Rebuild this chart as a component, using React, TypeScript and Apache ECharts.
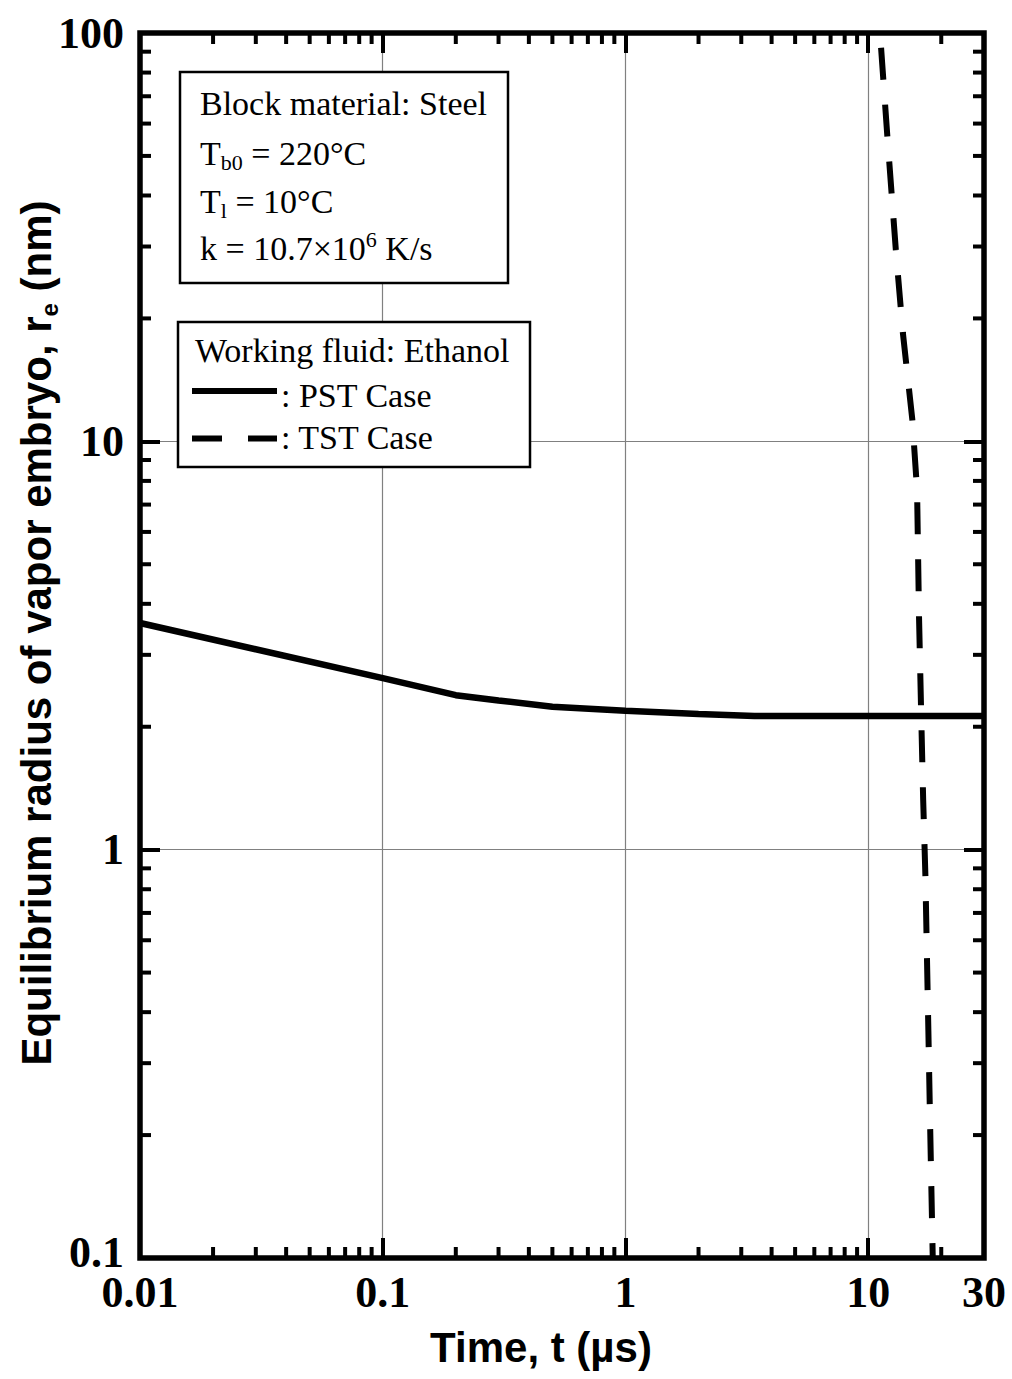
import React, { useEffect, useRef } from 'react';
import * as echarts from 'echarts';

// ---- data (time in µs, radius in nm) ----
const pstTime = [0.01, 0.1, 0.2, 0.3, 0.5, 1, 2, 3.4, 30];
const pstRadius = [3.59, 2.63, 2.39, 2.32, 2.24, 2.19, 2.15, 2.125, 2.125];
const tstTime = [11.3, 12.0, 13.0, 13.9, 15.2, 15.9, 16.2, 16.5, 16.85, 17.2, 17.7, 18.0, 18.45];
const tstRadius = [92, 55.6, 29.4, 18.4, 11.3, 7.6, 3.7, 2.26, 1.32, 0.87, 0.36, 0.21, 0.1];
const xRange = [0.01, 30];
const yRange = [0.1, 100];
const minorMultipliers = [2, 3, 4, 5, 6, 7, 8, 9];

const SERIF = "'Liberation Serif', 'Times New Roman', serif";
const SANS = "'Liberation Sans', Arial, sans-serif";

function minorTicks(range: number[]): number[] {
  const out: number[] = [];
  for (let d = Math.floor(Math.log10(range[0])); d <= Math.ceil(Math.log10(range[1])); d++) {
    for (const m of minorMultipliers) {
      const v = parseFloat((m * Math.pow(10, d)).toPrecision(6));
      if (v > range[0] && v < range[1]) out.push(v);
    }
  }
  return out;
}

const fmt = (v: number) => String(parseFloat(Number(v).toPrecision(4)));

export default function App() {
  const ref = useRef<HTMLDivElement>(null);
  useEffect(() => {
    if (!ref.current) return;
    const chart = echarts.init(ref.current, null, { renderer: 'svg' });
    const tickStyle = { color: '#000', width: 4 };
    const MINOR = 11;
    const xMinor = minorTicks(xRange).map((v) => [v, 1]);
    const yMinor = minorTicks(yRange).map((v) => [1, v]);
    const lineSty = { stroke: '#000', lineWidth: 4 };
    const labelFont = { fontFamily: SERIF, fontWeight: 'bold', fontSize: 44, color: '#000' };

    const mainTxt = { fontFamily: SERIF, fontSize: 34, lineHeight: 40, color: '#000' };
    const option: any = {
      animation: false,
      backgroundColor: '#fff',
      grid: {
        left: 140, right: 28, top: 33, bottom: 121,
        show: true, borderColor: '#000', borderWidth: 5.5, backgroundColor: 'transparent',
      },
      xAxis: [
        {
          type: 'log', logBase: 10, min: xRange[0], max: xRange[1], position: 'bottom',
          axisLine: { show: false },
          axisTick: { show: true, inside: true, length: 20, lineStyle: tickStyle },
          axisLabel: {
            show: true, margin: 12, formatter: fmt, showMinLabel: true, showMaxLabel: true,
            ...labelFont,
          },
          splitLine: { show: true, showMinLine: false, showMaxLine: false, lineStyle: { color: '#808080', width: 1.2 } },
        },
        {
          type: 'log', logBase: 10, min: xRange[0], max: xRange[1], position: 'top',
          axisLine: { show: false },
          axisTick: { show: true, inside: true, length: 20, lineStyle: tickStyle },
          axisLabel: { show: false },
          splitLine: { show: false },
        },
      ],
      yAxis: [
        {
          type: 'log', logBase: 10, min: yRange[0], max: yRange[1], position: 'left',
          axisLine: { show: false },
          axisTick: { show: true, inside: true, length: 20, lineStyle: tickStyle },
          axisLabel: {
            show: true, margin: 16, showMinLabel: true, showMaxLabel: true,
            formatter: (v: number) => (Math.abs(v - yRange[0]) < 1e-9 ? '{lo|' + fmt(v) + '}' : fmt(v)),
            rich: { lo: { ...labelFont, padding: [0, 0, 12, 0] } },
            ...labelFont,
          },
          splitLine: { show: true, showMinLine: false, showMaxLine: false, lineStyle: { color: '#808080', width: 1.2 } },
        },
        {
          type: 'log', logBase: 10, min: yRange[0], max: yRange[1], position: 'right',
          axisLine: { show: false },
          axisTick: { show: true, inside: true, length: 20, lineStyle: tickStyle },
          axisLabel: { show: false },
          splitLine: { show: false },
        },
      ],
      series: [
        {
          name: 'PST Case', type: 'line', xAxisIndex: 0, yAxisIndex: 0,
          data: pstTime.map((t, i) => [t, pstRadius[i]]),
          symbol: 'none', clip: true, z: 5,
          lineStyle: { color: '#000', width: 6.5 },
        },
        {
          name: 'TST Case', type: 'line', xAxisIndex: 0, yAxisIndex: 0,
          data: tstTime.map((t, i) => [t, tstRadius[i]]),
          symbol: 'none', clip: true, z: 5,
          lineStyle: { color: '#000', width: 6, type: [32, 25], cap: 'butt' },
        },
        {
          type: 'custom', xAxisIndex: 0, yAxisIndex: 0, data: xMinor, silent: true, z: 6,
          renderItem: (_p: any, api: any) => {
            const v = api.value(0);
            const pb = api.coord([v, yRange[0]]);
            const pt = api.coord([v, yRange[1]]);
            return {
              type: 'group',
              children: [
                { type: 'line', shape: { x1: pb[0], y1: pb[1], x2: pb[0], y2: pb[1] - MINOR }, style: lineSty },
                { type: 'line', shape: { x1: pt[0], y1: pt[1], x2: pt[0], y2: pt[1] + MINOR }, style: lineSty },
              ],
            };
          },
        },
        {
          type: 'custom', xAxisIndex: 0, yAxisIndex: 0, data: yMinor, silent: true, z: 6,
          renderItem: (_p: any, api: any) => {
            const v = api.value(1);
            const pl = api.coord([xRange[0], v]);
            const pr = api.coord([xRange[1], v]);
            return {
              type: 'group',
              children: [
                { type: 'line', shape: { x1: pl[0], y1: pl[1], x2: pl[0] + MINOR, y2: pl[1] }, style: lineSty },
                { type: 'line', shape: { x1: pr[0], y1: pr[1], x2: pr[0] - MINOR, y2: pr[1] }, style: lineSty },
              ],
            };
          },
        },
      ],
      graphic: [
        // axis titles
        {
          type: 'text', x: 541, y: 1347, z: 50,
          style: { text: 'Time, t (µs)', fontFamily: SANS, fontWeight: 'bold', fontSize: 42, fill: '#000', align: 'center', verticalAlign: 'middle' },
        },
        {
          type: 'text', x: 36, y: 633, rotation: Math.PI / 2, z: 50,
          style: {
            text: '{a|Equilibrium radius of vapor embryo, r}{s|e}{a| (nm)}',
            align: 'center', verticalAlign: 'middle',
            rich: {
              a: { fontFamily: SANS, fontWeight: 'bold', fontSize: 42, lineHeight: 50, fill: '#000' },
              s: { fontFamily: SANS, fontWeight: 'bold', fontSize: 24, lineHeight: 14, verticalAlign: 'bottom', fill: '#000' },
            },
          },
        },
        // condition box
        {
          type: 'rect', z: 100, shape: { x: 180, y: 72, width: 328, height: 211 },
          style: { fill: '#fff', stroke: '#000', lineWidth: 2.5 },
        },
        {
          type: 'text', x: 200, y: 103.5, z: 101,
          style: { text: 'Block material: Steel', fontFamily: SERIF, fontSize: 34, fill: '#000', verticalAlign: 'middle' },
        },
        {
          type: 'text', x: 200, y: 153.5, z: 101,
          style: {
            text: '{a|T}{s|b0}{a| = 220°C}', verticalAlign: 'middle',
            rich: {
              a: { ...mainTxt, fill: '#000' },
              s: { fontFamily: SERIF, fontSize: 22, lineHeight: 22, verticalAlign: 'bottom', fill: '#000' },
            },
          },
        },
        {
          type: 'text', x: 200, y: 201.5, z: 101,
          style: {
            text: '{a|T}{s|l}{a| = 10°C}', verticalAlign: 'middle',
            rich: {
              a: { ...mainTxt, fill: '#000' },
              s: { fontFamily: SERIF, fontSize: 22, lineHeight: 22, verticalAlign: 'bottom', fill: '#000' },
            },
          },
        },
        {
          type: 'text', x: 200, y: 248.5, z: 101,
          style: {
            text: '{a|k = 10.7×10}{p|6}{a| K/s}', verticalAlign: 'middle',
            rich: {
              a: { ...mainTxt, fill: '#000' },
              p: { fontFamily: SERIF, fontSize: 22, lineHeight: 24, verticalAlign: 'top', fill: '#000' },
            },
          },
        },
        // legend box
        {
          type: 'rect', z: 100, shape: { x: 178, y: 322, width: 352, height: 145 },
          style: { fill: '#fff', stroke: '#000', lineWidth: 2.5 },
        },
        {
          type: 'text', x: 195, y: 350, z: 101,
          style: { text: 'Working fluid: Ethanol', fontFamily: SERIF, fontSize: 34, fill: '#000', verticalAlign: 'middle' },
        },
        {
          type: 'line', z: 101, shape: { x1: 192, y1: 391, x2: 277, y2: 391 },
          style: { stroke: '#000', lineWidth: 6 },
        },
        {
          type: 'text', x: 281, y: 395, z: 101,
          style: { text: ': PST Case', fontFamily: SERIF, fontSize: 34, fill: '#000', verticalAlign: 'middle' },
        },
        {
          type: 'line', z: 101, shape: { x1: 192, y1: 438.5, x2: 277, y2: 438.5 },
          style: { stroke: '#000', lineWidth: 6, lineDash: [30, 26] },
        },
        {
          type: 'text', x: 281, y: 437, z: 101,
          style: { text: ': TST Case', fontFamily: SERIF, fontSize: 34, fill: '#000', verticalAlign: 'middle' },
        },
      ],
    };
    chart.setOption(option);
    return () => chart.dispose();
  }, []);
  return <div ref={ref} style={{ position: 'absolute', left: 0, top: 0, width: 1012, height: 1379 }} />;
}
